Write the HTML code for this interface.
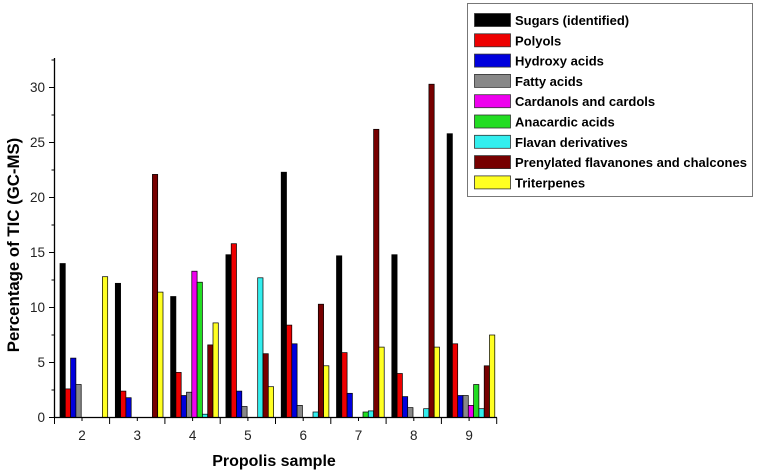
<!DOCTYPE html>
<html><head><meta charset="utf-8"><style>
html,body{margin:0;padding:0;background:#fff;width:757px;height:471px;overflow:hidden}
text{font-family:"Liberation Sans",Arial,sans-serif}
</style></head><body>
<svg id="s" width="757" height="471" xmlns="http://www.w3.org/2000/svg">
<g id="bars"></g>
<line x1="54.5" y1="58" x2="54.5" y2="417.5" stroke="#000" stroke-width="1.3"/>
<line x1="54" y1="417.5" x2="497" y2="417.5" stroke="#000" stroke-width="1.3"/>
<g id="ticks" stroke="#000" stroke-width="1"></g>
<g font-size="13.5" fill="#222" id="lbl"></g>
<text x="274" y="466" font-size="16" font-weight="bold" text-anchor="middle">Propolis sample</text>
<text transform="translate(19,245) rotate(-90)" font-size="16.8" font-weight="bold" text-anchor="middle">Percentage of TIC (GC-MS)</text>
<rect x="467.5" y="3.5" width="285" height="193" fill="#fff" stroke="#777" stroke-width="1"/>
<g id="leg" font-size="13" font-weight="bold"></g>
</svg>
<script>
var C=["#000","#e00","#00d","#888","#e0e","#2d2","#3ee","#700","#ff2"];
var N=["Sugars (identified)","Polyols","Hydroxy acids","Fatty acids","Cardanols and cardols","Anacardic acids","Flavan derivatives","Prenylated flavanones and chalcones","Triterpenes"];
var D=[[14,2.6,5.4,3.0,0,0,0,0,12.8],[12.2,2.4,1.8,0,0,0,0,22.1,11.4],[11,4.1,2.0,2.3,13.3,12.3,0.3,6.6,8.6],[14.8,15.8,2.4,1.0,0,0,12.7,5.8,2.8],[22.3,8.4,6.7,1.1,0,0,0.5,10.3,4.7],[14.7,5.9,2.2,0,0,0.5,0.6,26.2,6.4],[14.8,4.0,1.9,0.9,0,0,0.8,30.3,6.4],[25.8,6.7,2.0,2.0,1.1,3.0,0.8,4.7,7.5]];
var ns="http://www.w3.org/2000/svg";
function el(p,t,a,txt){var e=document.createElementNS(ns,t);for(var k in a)e.setAttribute(k,a[k]);if(txt!=null)e.textContent=txt;document.getElementById(p).appendChild(e);}
var y0=417.5,k=11;
for(var g=0;g<8;g++){var c=82+g*55.3,st=c-22;
 for(var i=0;i<9;i++){var v=D[g][i];if(!v)continue;
  el("bars","rect",{x:st+i*5.3,y:y0-v*k,width:5.3,height:v*k,fill:C[i],stroke:"#000","stroke-width":0.7});}
 el("ticks","line",{x1:c,y1:417.5,x2:c,y2:421});
 el("ticks","line",{x1:c+27.6,y1:417.5,x2:c+27.6,y2:424});
 el("lbl","text",{x:c,y:440,"text-anchor":"middle"},String(g+2));
}
el("ticks","line",{x1:54.5,y1:417.5,x2:54.5,y2:424});
for(var v=0;v<=32.5;v+=2.5){var y=y0-v*k,maj=(v%5==0);
 el("ticks","line",{x1:maj?49:51.5,y1:y,x2:54.5,y2:y});
 if(maj)el("lbl","text",{x:45,y:y+4.5,"text-anchor":"end"},String(v));}
for(var i=0;i<9;i++){var y=13.5+i*20.3;
 el("leg","rect",{x:474.5,y:y,width:36,height:13,fill:C[i],stroke:"#333","stroke-width":0.8});
 el("leg","text",{x:515,y:y+11.5},N[i]);}
</script>
</body></html>
